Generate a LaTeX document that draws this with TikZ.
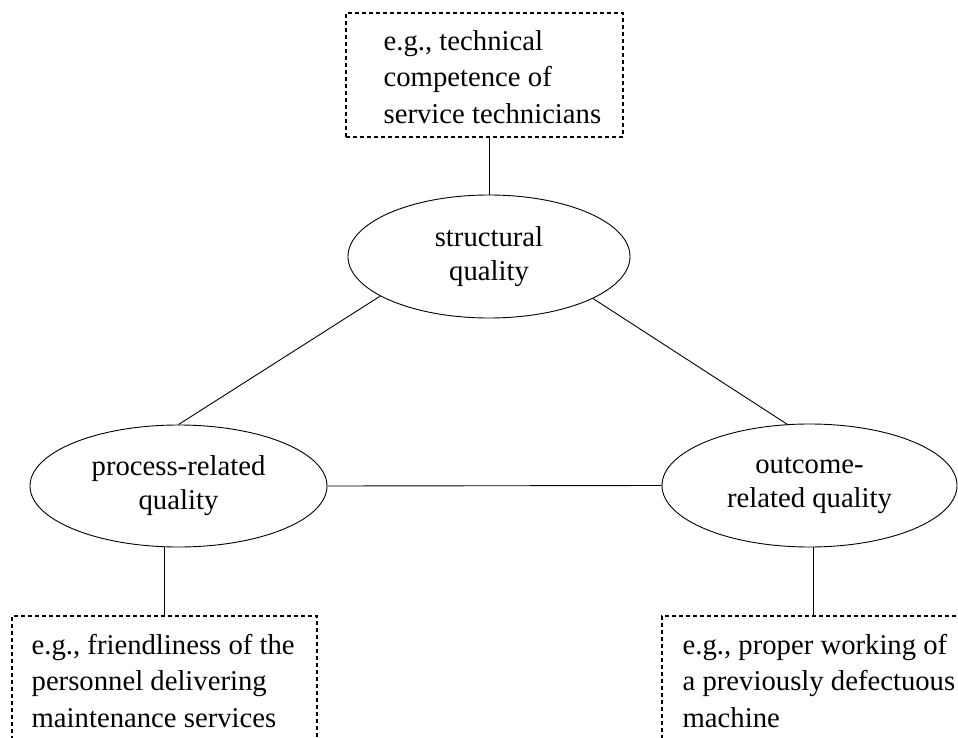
\documentclass[tikz,border=0pt]{standalone}
\usepackage{fontspec}
\setmainfont{Liberation Serif}
\usetikzlibrary{shapes.geometric}
\begin{document}
\begin{tikzpicture}[x=1pt,y=-1pt,
  qual/.style={draw, ellipse, line width=0.9pt, inner sep=0pt, align=center, font=\fontsize{28.7}{34}\selectfont},
  ex/.style={draw, dash pattern=on 4pt off 3pt, line width=1.1pt, inner sep=0pt},
  extext/.style={inner sep=0pt, align=left, anchor=west, font=\fontsize{28.7}{36.5}\selectfont},
  link/.style={line width=0.9pt}]
\useasboundingbox (0,0) rectangle (958,738);
\clip (0,0) rectangle (958,738);
% quality ellipses
\node[qual, minimum width=282pt, minimum height=123pt] (s) at (489,256.5) {structural\\quality};
\node[qual, minimum width=297pt, minimum height=122pt] (p) at (178.5,486) {process-related\\quality};
\node[qual, minimum width=295pt, minimum height=123pt] (o) at (809.5,485.5) {outcome-\\related quality};
% example boxes
\node[ex, minimum width=277pt, minimum height=124pt] (tb) at (484.5,75) {};
\node[extext] (tbt) at ([xshift=38pt,yshift=-2pt]tb.west) {e.g., technical\\competence of\\service technicians};
\node[ex, minimum width=305pt, minimum height=124pt] (bl) at (164.5,678) {};
\node[extext] (blt) at ([xshift=20pt,yshift=-3pt]bl.west) {e.g., friendliness of the\\personnel delivering\\maintenance services};
\node[ex, minimum width=302pt, minimum height=124pt] (br) at (813,678) {};
\node[extext] (brt) at ([xshift=21pt,yshift=-3pt]br.west) {e.g., proper working of\\a previously defectuous\\machine};
% connectors
\draw[link] (s.north |- tb.south) -- (s.north);
\draw[link] (s.200) -- (p.north);
\draw[link] (s.-22) -- (o.110);
\draw[link] (p.east) -- (o.west);
\draw[link] (bl.north) -- (bl.north |- p.south);
\draw[link] (br.north) -- (br.north |- o.south);
\end{tikzpicture}
\end{document}
